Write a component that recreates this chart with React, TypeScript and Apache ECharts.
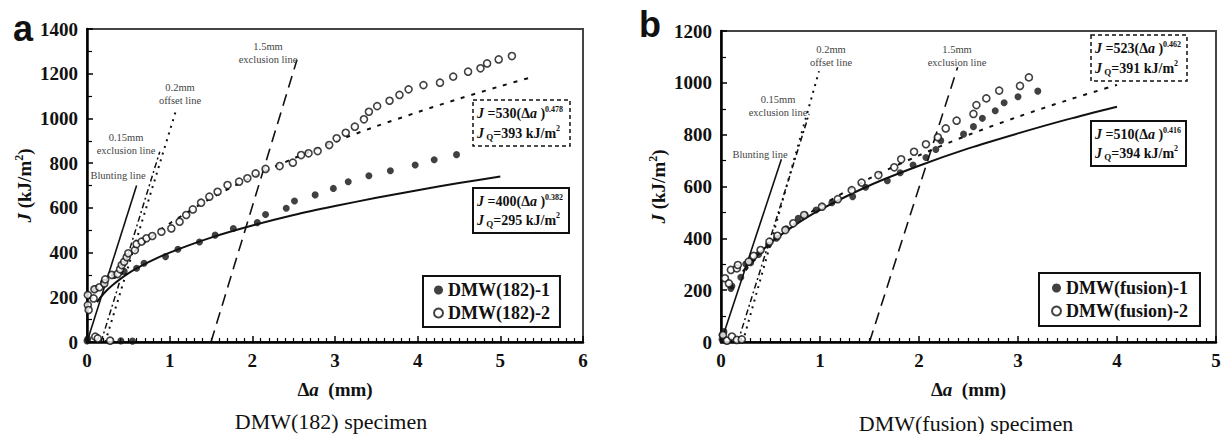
import React, { useEffect, useRef } from "react";
import * as echarts from "echarts";

const SERIF = "Liberation Serif";
const SANS = "Liberation Sans";

// ---------- Panel a : DMW(182) ----------
const closedA: number[][] = [
  [0.0, 5], [0.01, 14], [0.41, 5], [0.55, 4],
  [0.1, 238], [0.2, 268], [0.33, 298], [0.45, 316],
  [0.6, 330], [0.69, 352], [0.95, 382], [1.1, 415], [1.36, 447], [1.55, 478],
  [1.77, 508], [2.06, 534], [2.16, 570], [2.41, 598], [2.51, 631], [2.76, 658],
  [2.98, 687], [3.16, 717], [3.41, 744], [3.67, 766], [3.97, 792], [4.2, 815], [4.47, 838],
];
const openA: number[][] = [
  [0.01, 210], [0.01, 165], [0.02, 143], [0.08, 195], [0.09, 236], [0.1, 24], [0.13, 16], [0.28, 6],
  [0.15, 245], [0.21, 262], [0.22, 280], [0.3, 300], [0.37, 304], [0.4, 325], [0.42, 344],
  [0.45, 359], [0.48, 379], [0.5, 397], [0.58, 411], [0.6, 438], [0.66, 449], [0.72, 464],
  [0.79, 474], [0.9, 493], [1.02, 508], [1.12, 538], [1.2, 568], [1.28, 593], [1.38, 623],
  [1.48, 650], [1.58, 672], [1.7, 702], [1.84, 717], [1.94, 732], [2.04, 754], [2.16, 774],
  [2.33, 787], [2.49, 802], [2.59, 836], [2.68, 844], [2.79, 854], [2.93, 881], [3.02, 911],
  [3.13, 936], [3.24, 963], [3.35, 996], [3.41, 1030], [3.51, 1055], [3.66, 1079], [3.78, 1105],
  [3.89, 1130], [4.07, 1149], [4.27, 1160], [4.43, 1187], [4.61, 1209], [4.76, 1224],
  [4.84, 1246], [4.98, 1264], [5.14, 1279],
];
const fitSolidA: number[][] = [
  [0.12, 178], [0.2, 216], [0.3, 252], [0.5, 307], [0.75, 358], [1, 400], [1.5, 467],
  [2, 521], [2.5, 568], [3, 608], [3.5, 645], [4, 679], [4.5, 711], [5, 740],
];
const fitDotA: number[][] = [
  [0.3, 298], [0.5, 381], [0.75, 462], [1, 530], [1.5, 643], [2, 738], [2.5, 821],
  [3, 896], [3.5, 965], [4, 1028], [4.5, 1088], [5, 1144], [5.4, 1187],
];
const bluntA: number[][] = [[0, 0], [0.6, 700]];
const excl015A: number[][] = [[0.17, 0], [0.88, 851]];
const offset02A: number[][] = [[0.22, 0], [1.08, 1040]];
const excl15A: number[][] = [[1.5, 0], [2.54, 1262]];

// ---------- Panel b : DMW(fusion) ----------
const closedB: number[][] = [
  [0.01, 27], [0.03, 40], [0.01, 10], [0.1, 207], [0.11, 216], [0.2, 250], [0.25, 301],
  [0.3, 306], [0.38, 338], [0.48, 375], [0.56, 400], [0.66, 437], [0.78, 477], [0.85, 490],
  [0.96, 509], [1.12, 537], [1.33, 561], [1.46, 597], [1.68, 622], [1.81, 653], [1.94, 683],
  [2.07, 712], [2.17, 743], [2.22, 777], [2.45, 802], [2.55, 831], [2.64, 863], [2.77, 892],
  [2.86, 923], [3.0, 946], [3.2, 968],
];
const openB: number[][] = [
  [0.02, 27], [0.06, 5], [0.11, 21], [0.16, 8], [0.21, 10],
  [0.04, 246], [0.08, 226], [0.1, 278], [0.16, 284], [0.17, 297], [0.28, 310], [0.33, 332],
  [0.4, 355], [0.49, 387], [0.57, 410], [0.65, 432], [0.73, 458], [0.84, 490], [1.02, 522],
  [1.18, 551], [1.32, 586], [1.42, 615], [1.59, 644], [1.75, 674], [1.82, 705], [1.95, 734],
  [2.07, 763], [2.19, 790], [2.27, 824], [2.38, 854], [2.55, 880], [2.58, 914], [2.68, 940],
  [2.81, 970], [3.02, 988], [3.11, 1021],
];
const fitSolidB: number[][] = [
  [0.22, 272], [0.3, 309], [0.5, 382], [0.75, 452], [1, 510], [1.5, 604], [2, 680],
  [2.5, 747], [3, 805], [3.5, 859], [4, 908],
];
const fitDotB: number[][] = [
  [0.25, 276], [0.3, 300], [0.5, 380], [0.75, 458], [1, 523], [1.5, 631], [2, 720],
  [2.5, 799], [3, 869], [3.5, 933], [4, 992],
];
const bluntB: number[][] = [[0, 0], [0.61, 705]];
const excl015B: number[][] = [[0.17, 0], [0.89, 880]];
const offset02B: number[][] = [[0.22, 0], [0.99, 1045]];
const excl15B: number[][] = [[1.5, 0], [2.39, 1060]];

const xTicksMaxA = 6;
const xTicksMaxB = 5;
const yMaxA = 1400;
const yMaxB = 1200;

const seriesNamesA = ["DMW(182)-1", "DMW(182)-2"];
const seriesNamesB = ["DMW(fusion)-1", "DMW(fusion)-2"];

const labelFont = { fontFamily: SERIF, fontSize: 19, fontWeight: "bold" as const, color: "#111" };

function xAxisCfg(gridIndex: number, max: number) {
  return {
    type: "value",
    gridIndex,
    min: 0,
    max,
    interval: 1,
    axisLine: { show: true, onZero: false, lineStyle: { color: "#000", width: 2.5 } },
    axisTick: { show: true, inside: true, length: 6, lineStyle: { color: "#000", width: 1.5 } },
    minorTick: { show: true, splitNumber: 10, length: 4, lineStyle: { color: "#000", width: 1.2 } },
    splitLine: { show: false },
    axisLabel: { ...labelFont, margin: 9, formatter: (v: number) => String(v) },
    name: "{d|Δ}{i|a}{n|  (mm)}",
    nameLocation: "middle",
    nameGap: 38,
    nameTextStyle: {
      ...labelFont,
      rich: {
        d: { ...labelFont },
        i: { ...labelFont, fontStyle: "italic" },
        n: { ...labelFont },
      },
    },
  };
}

function yAxisCfg(gridIndex: number, max: number) {
  return {
    type: "value",
    gridIndex,
    min: 0,
    max,
    interval: 200,
    axisLine: { show: true, onZero: false, lineStyle: { color: "#000", width: 2.5 } },
    axisTick: { show: true, inside: true, length: 6, lineStyle: { color: "#000", width: 1.5 } },
    minorTick: { show: true, splitNumber: 2, length: 5, lineStyle: { color: "#000", width: 1.2 } },
    splitLine: { show: false },
    axisLabel: { ...labelFont, margin: 9, formatter: (v: number) => String(v) },
    name: "{i|J} {n|(kJ/m}{s|2}{n|)}",
    nameLocation: "middle",
    nameGap: 52,
    nameRotate: 90,
    nameTextStyle: {
      ...labelFont,
      rich: {
        i: { ...labelFont, fontStyle: "italic", lineHeight: 22 },
        n: { ...labelFont, lineHeight: 22 },
        s: { ...labelFont, fontSize: 12, verticalAlign: "top", lineHeight: 12 },
      },
    },
  };
}

function lineSeries(name: string, data: number[][], idx: number, type: any, width: number) {
  return {
    name,
    type: "line",
    xAxisIndex: idx,
    yAxisIndex: idx,
    data,
    symbol: "none",
    smooth: data.length > 2 ? 0.3 : false,
    silent: true,
    lineStyle: { color: "#111", width, type },
    z: 2,
  };
}

function scatter(name: string, data: number[][], idx: number, open: boolean) {
  return {
    name,
    type: "scatter",
    xAxisIndex: idx,
    yAxisIndex: idx,
    data,
    symbol: "circle",
    symbolSize: 7,
    itemStyle: open
      ? { color: "#fff", borderColor: "#111", borderWidth: 1.6 }
      : { color: "#111", borderColor: "#111", borderWidth: 0 },
    z: 5,
  };
}

const eqRich = {
  i: { fontFamily: SERIF, fontSize: 14, fontWeight: "bold", fontStyle: "italic", fill: "#111", lineHeight: 17 },
  b: { fontFamily: SERIF, fontSize: 14, fontWeight: "bold", fill: "#111", lineHeight: 17 },
  s: { fontFamily: SERIF, fontSize: 8, fontWeight: "bold", fill: "#111", verticalAlign: "top", lineHeight: 9 },
  q: { fontFamily: SERIF, fontSize: 9, fontWeight: "bold", fill: "#111", verticalAlign: "bottom", lineHeight: 11 },
};

function eqBox(x: number, y: number, w: number, h: number, dashed: boolean, coef: string, expo: string, jq: string) {
  return [
    {
      type: "rect",
      shape: { x, y, width: w, height: h },
      style: { fill: "#fff", stroke: "#111", lineWidth: dashed ? 1.5 : 2, lineDash: dashed ? [4, 3] : null },
      z: 10,
    },
    {
      type: "text",
      x: x + 4,
      y: y + h * 0.3,
      style: {
        text: `{i|J}{b| =${coef}(Δ}{i|a}{b| )}{s|${expo}}`,
        rich: eqRich,
        align: "left",
        verticalAlign: "middle",
      },
      z: 11,
    },
    {
      type: "text",
      x: x + 4,
      y: y + h * 0.72,
      style: {
        text: `{i|J}{q| Q}{b|=${jq} kJ/m}{s|2}`,
        rich: eqRich,
        align: "left",
        verticalAlign: "middle",
      },
      z: 11,
    },
  ];
}

function note(x: number, y: number, text: string) {
  return {
    type: "text",
    x,
    y,
    style: {
      text,
      fontFamily: SERIF,
      fontSize: 10.5,
      fill: "#444",
      align: "center",
      verticalAlign: "middle",
      lineHeight: 13,
    },
    z: 10,
  };
}

export default function App() {
  const ref = useRef<HTMLDivElement>(null);
  useEffect(() => {
    document.body.style.margin = "0";
    if (!ref.current) return;
    const chart = echarts.init(ref.current, null, { renderer: "svg" });
    const legendText = { fontFamily: SERIF, fontSize: 18, fontWeight: "bold" as const, color: "#111" };
    const option: any = {
      animation: false,
      backgroundColor: "#fff",
      textStyle: { fontFamily: SERIF },
      grid: [
        { left: 87, top: 29, width: 496, height: 313, show: true, borderColor: "#444", borderWidth: 2 },
        { left: 721, top: 31, width: 495, height: 311, show: true, borderColor: "#444", borderWidth: 2 },
      ],
      xAxis: [xAxisCfg(0, xTicksMaxA), xAxisCfg(1, xTicksMaxB)],
      yAxis: [yAxisCfg(0, yMaxA), yAxisCfg(1, yMaxB)],
      legend: [
        {
          data: seriesNamesA,
          orient: "vertical",
          left: 423,
          top: 276,
          itemWidth: 9,
          itemHeight: 9,
          itemGap: 5,
          padding: [5, 10, 5, 10],
          borderColor: "#111",
          borderWidth: 2,
          textStyle: legendText,
          selectedMode: false,
        },
        {
          data: seriesNamesB,
          orient: "vertical",
          left: 1039,
          top: 273,
          itemWidth: 9,
          itemHeight: 9,
          itemGap: 5,
          padding: [6, 12, 6, 12],
          borderColor: "#111",
          borderWidth: 2,
          textStyle: legendText,
          selectedMode: false,
        },
      ],
      series: [
        lineSeries("fitA", fitSolidA, 0, "solid", 2),
        lineSeries("fitDotA", fitDotA, 0, [4, 7], 2),
        lineSeries("bluntA", bluntA, 0, "solid", 1.6),
        lineSeries("excl015A", excl015A, 0, [6, 3, 2, 3], 1.5),
        lineSeries("offset02A", offset02A, 0, [2, 5], 2),
        lineSeries("excl15A", excl15A, 0, [12, 7], 1.6),
        scatter(seriesNamesA[0], closedA, 0, false),
        scatter(seriesNamesA[1], openA, 0, true),
        lineSeries("fitB", fitSolidB, 1, "solid", 2),
        lineSeries("fitDotB", fitDotB, 1, [4, 7], 2),
        lineSeries("bluntB", bluntB, 1, "solid", 1.6),
        lineSeries("excl015B", excl015B, 1, [6, 3, 2, 3], 1.5),
        lineSeries("offset02B", offset02B, 1, [2, 5], 2),
        lineSeries("excl15B", excl15B, 1, [12, 7], 1.6),
        scatter(seriesNamesB[0], closedB, 1, false),
        scatter(seriesNamesB[1], openB, 1, true),
      ],
      graphic: [
        { type: "text", x: 23, y: 28, style: { text: "a", fontFamily: SANS, fontSize: 36, fontWeight: "bold", fill: "#111", align: "center", verticalAlign: "middle" } },
        { type: "text", x: 650, y: 24, style: { text: "b", fontFamily: SANS, fontSize: 36, fontWeight: "bold", fill: "#111", align: "center", verticalAlign: "middle" } },
        { type: "text", x: 331, y: 421, style: { text: "DMW(182) specimen", fontFamily: SERIF, fontSize: 22, fill: "#111", align: "center", verticalAlign: "middle" } },
        { type: "text", x: 966, y: 423, style: { text: "DMW(fusion) specimen", fontFamily: SERIF, fontSize: 22, fill: "#111", align: "center", verticalAlign: "middle" } },
        note(126, 144, "0.15mm\nexclusion line"),
        note(118, 175, "Blunting line"),
        note(180, 94, "0.2mm\noffset line"),
        note(268, 53, "1.5mm\nexclusion line"),
        note(778, 106, "0.15mm\nexclusion line"),
        note(760, 154, "Blunting line"),
        note(831, 56, "0.2mm\noffset line"),
        note(957, 56, "1.5mm\nexclusion line"),
        ...eqBox(473, 100, 97, 46, true, "530", "0.478", "393"),
        ...eqBox(473, 188, 96, 45, false, "400", "0.382", "295"),
        ...eqBox(1091, 35, 96, 46, true, "523", "0.462", "391"),
        ...eqBox(1091, 121, 95, 45, false, "510", "0.416", "394"),
      ],
    };
    chart.setOption(option);
    return () => chart.dispose();
  }, []);
  return <div ref={ref} style={{ width: 1224, height: 434 }} />;
}
